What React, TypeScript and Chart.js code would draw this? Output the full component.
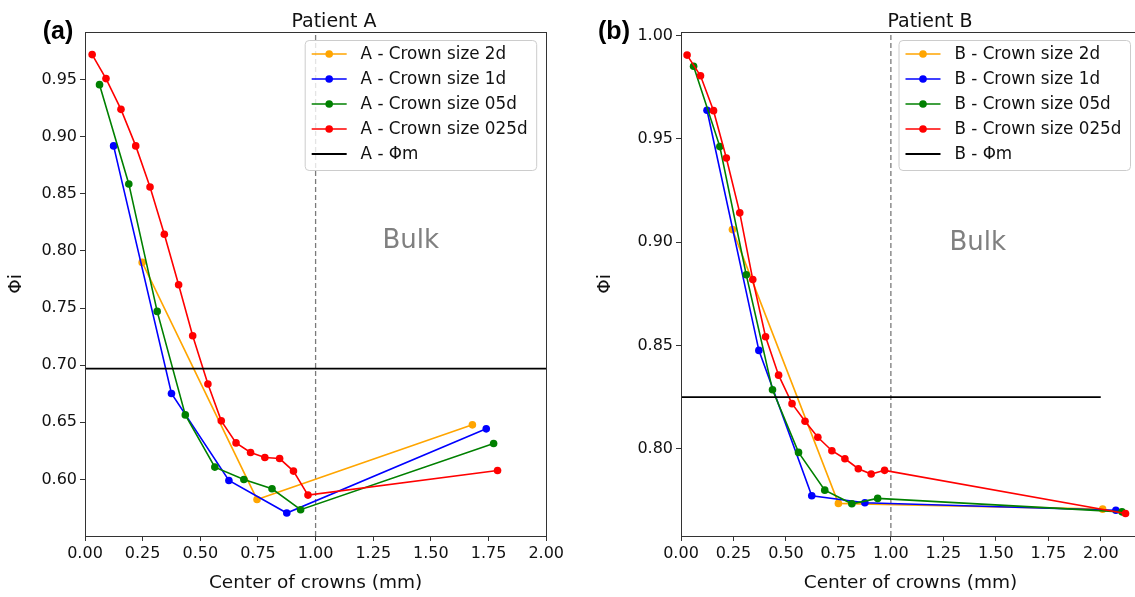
import React, { useEffect, useRef } from "react";
import { Chart, registerables } from "chart.js";

Chart.register(...registerables);

const FONT = "'DejaVu Sans', 'Liberation Sans', sans-serif";
const TAG_FONT = "'Liberation Sans', Arial, sans-serif";

// ---------- Panel A (Patient A) ----------
const aLabels = ["A - Crown size 2d", "A - Crown size 1d", "A - Crown size 05d", "A - Crown size 025d"];
const aPhiMLabel = "A - Φm";
const a2dX = [0.248, 0.746, 1.68];
const a2dY = [0.79, 0.5825, 0.6478];
const a1dX = [0.124, 0.375, 0.624, 0.875, 1.74];
const a1dY = [0.892, 0.6752, 0.5991, 0.5706, 0.6443];
const a05dX = [0.063, 0.19, 0.313, 0.435, 0.563, 0.689, 0.811, 0.935, 1.772];
const a05dY = [0.9456, 0.8587, 0.7471, 0.6565, 0.6108, 0.6, 0.5918, 0.5735, 0.6315];
const a025dX = [0.031, 0.091, 0.156, 0.22, 0.282, 0.344, 0.406, 0.467, 0.533, 0.591, 0.655, 0.718, 0.78, 0.844, 0.904, 0.967, 1.789];
const a025dY = [0.9719, 0.9509, 0.924, 0.892, 0.856, 0.8146, 0.7705, 0.7258, 0.6836, 0.6513, 0.632, 0.6236, 0.6192, 0.6183, 0.6073, 0.5863, 0.6079];
const aPhiM = 0.697;
const aPhiMRange = [0, 2.0];
const aXTicks = [0, 0.25, 0.5, 0.75, 1.0, 1.25, 1.5, 1.75, 2.0];
const aYTicks = [0.6, 0.65, 0.7, 0.75, 0.8, 0.85, 0.9, 0.95];
const aXLimits = [0, 2.0];
const aYLimits = [0.5505, 0.9917];
const aBulk = [1.29, 0.8023];

// ---------- Panel B (Patient B) ----------
const bLabels = ["B - Crown size 2d", "B - Crown size 1d", "B - Crown size 05d", "B - Crown size 025d"];
const bPhiMLabel = "B - Φm";
const b2dX = [0.245, 0.75, 2.009];
const b2dY = [0.9061, 0.7735, 0.7707];
const b1dX = [0.124, 0.371, 0.623, 0.876, 2.072];
const b1dY = [0.9639, 0.8476, 0.7772, 0.7738, 0.7702];
const b05dX = [0.06, 0.185, 0.311, 0.436, 0.56, 0.685, 0.814, 0.937, 2.101];
const b05dY = [0.9852, 0.9463, 0.8842, 0.8285, 0.7982, 0.7799, 0.7733, 0.7759, 0.7694];
const b025dX = [0.029, 0.093, 0.155, 0.216, 0.28, 0.342, 0.403, 0.465, 0.529, 0.591, 0.652, 0.719, 0.781, 0.845, 0.906, 0.97, 2.118];
const b025dY = [0.9906, 0.9806, 0.9637, 0.9408, 0.9142, 0.8819, 0.8542, 0.8356, 0.8218, 0.8133, 0.8055, 0.799, 0.7951, 0.7903, 0.7877, 0.7895, 0.7686];
const bPhiM = 0.825;
const bPhiMRange = [0, 2.0];
const bXTicks = [0, 0.25, 0.5, 0.75, 1.0, 1.25, 1.5, 1.75, 2.0];
const bYTicks = [0.8, 0.85, 0.9, 0.95, 1.0];
const bXLimits = [0, 2.187];
const bYLimits = [0.7577, 1.0018];
const bBulk = [1.279, 0.896];

const bulkBoundary = 1.0;

const seriesColors = ["#FFA500", "#0000FF", "#008000", "#FF0000"];
const phiMColor = "#000000";

const zip = (xs: number[], ys: number[]) => xs.map((x, i) => ({ x, y: ys[i] }));

const decorPlugin = {
  id: "decor",
  afterDatasetsDraw(chart: any, _args: any, opts: any) {
    const { ctx, chartArea: ca } = chart;
    const xs = chart.scales.x;
    const ys = chart.scales.y;
    ctx.save();
    // spines
    ctx.strokeStyle = "#333";
    ctx.lineWidth = 1;
    ctx.strokeRect(Math.round(ca.left) + 0.5, Math.round(ca.top) + 0.5, Math.round(ca.right - ca.left), Math.round(ca.bottom - ca.top));

    // Bulk text
    ctx.fillStyle = "#808080";
    ctx.font = `26px ${FONT}`;
    ctx.textAlign = "left";
    ctx.textBaseline = "alphabetic";
    ctx.fillText("Bulk", xs.getPixelForValue(opts.bulk[0]), ys.getPixelForValue(opts.bulk[1]));

    // legend
    const lw = 231.5;
    const lh = 130;
    const lx = ca.right - 9.5 - lw;
    const ly = ca.top + 8.5;
    const r = 4;
    ctx.beginPath();
    ctx.moveTo(lx + r, ly);
    ctx.lineTo(lx + lw - r, ly);
    ctx.quadraticCurveTo(lx + lw, ly, lx + lw, ly + r);
    ctx.lineTo(lx + lw, ly + lh - r);
    ctx.quadraticCurveTo(lx + lw, ly + lh, lx + lw - r, ly + lh);
    ctx.lineTo(lx + r, ly + lh);
    ctx.quadraticCurveTo(lx, ly + lh, lx, ly + lh - r);
    ctx.lineTo(lx, ly + r);
    ctx.quadraticCurveTo(lx, ly, lx + r, ly);
    ctx.closePath();
    ctx.fillStyle = "rgba(255,255,255,0.8)";
    ctx.fill();
    ctx.strokeStyle = "#cccccc";
    ctx.lineWidth = 1;
    ctx.stroke();

    ctx.font = `16.8px ${FONT}`;
    ctx.textBaseline = "middle";
    ctx.textAlign = "left";
    opts.legend.forEach((item: any, i: number) => {
      const cy = ly + 13.5 + 25 * i;
      ctx.strokeStyle = item.color;
      ctx.lineWidth = item.marker ? 1.6 : 1.8;
      ctx.beginPath();
      ctx.moveTo(lx + 6.5, cy);
      ctx.lineTo(lx + 41.5, cy);
      ctx.stroke();
      if (item.marker) {
        ctx.fillStyle = item.color;
        ctx.beginPath();
        ctx.arc(lx + 24, cy, 3.8, 0, Math.PI * 2);
        ctx.fill();
      }
      ctx.fillStyle = "#111";
      ctx.fillText(item.label, lx + 55.4, cy + 1);
    });

    // title
    ctx.fillStyle = "#111";
    ctx.font = `19px ${FONT}`;
    ctx.textAlign = "center";
    ctx.textBaseline = "alphabetic";
    ctx.fillText(opts.title, ca.left + 249, 27);

    // panel tag
    ctx.fillStyle = "#000";
    ctx.font = `bold 25px ${TAG_FONT}`;
    ctx.textBaseline = "middle";
    ctx.fillText(opts.tag, opts.tagPos[0], opts.tagPos[1]);
    ctx.restore();
  },
};

function buildConfig(p: any) {
  const series = [
    zip(p.s2d[0], p.s2d[1]),
    zip(p.s1d[0], p.s1d[1]),
    zip(p.s05d[0], p.s05d[1]),
    zip(p.s025d[0], p.s025d[1]),
  ];
  const drawList: any[] = [];
  drawList.push({
    label: "bulk boundary",
    data: [
      { x: bulkBoundary, y: p.yLim[0] },
      { x: bulkBoundary, y: p.yLim[1] },
    ],
    borderColor: "#7a7a7a",
    borderWidth: 1.3,
    borderDash: [5, 3],
    pointRadius: 0,
  });
  series.forEach((data, i) => {
    drawList.push({
      label: p.labels[i],
      data,
      borderColor: seriesColors[i],
      backgroundColor: seriesColors[i],
      pointBackgroundColor: seriesColors[i],
      pointBorderWidth: 0,
      pointRadius: 3.8,
      borderWidth: 1.6,
      tension: 0,
    });
  });
  drawList.push({
    label: p.phiMLabel,
    data: [
      { x: p.phiMRange[0], y: p.phiM },
      { x: p.phiMRange[1], y: p.phiM },
    ],
    borderColor: phiMColor,
    borderWidth: 1.8,
    pointRadius: 0,
  });
  const n = drawList.length;
  drawList.forEach((d, i) => (d.order = n - 1 - i));

  const legend = [
    ...p.labels.map((l: string, i: number) => ({ label: l, color: seriesColors[i], marker: true })),
    { label: p.phiMLabel, color: phiMColor, marker: false },
  ];

  return {
    type: "line",
    data: { datasets: drawList },
    options: {
      animation: false,
      responsive: false,
      maintainAspectRatio: false,
      devicePixelRatio: 1,
      layout: { padding: { left: 0, right: p.padRight, top: 32, bottom: 3 } },
      plugins: {
        legend: { display: false },
        tooltip: { enabled: false },
        decor: { legend, title: p.title, tag: p.tag, tagPos: p.tagPos, bulk: p.bulk },
      },
      scales: {
        x: {
          type: "linear",
          min: p.xLim[0],
          max: p.xLim[1],
          afterBuildTicks: (s: any) => {
            s.ticks = p.xTicks.map((v: number) => ({ value: v }));
          },
          afterFit: (s: any) => {
            s.height = 58;
          },
          ticks: {
            autoSkip: false,
            maxRotation: 0,
            padding: 3,
            color: "#111",
            font: { family: FONT, size: 16 },
            callback: (v: any) => Number(v).toFixed(2),
          },
          grid: { display: true, drawOnChartArea: false, drawTicks: true, tickLength: 5, color: "#333" },
          border: { display: false },
          title: {
            display: true,
            text: "Center of crowns (mm)",
            color: "#111",
            font: { family: FONT, size: 18.5 },
            padding: { top: 0, bottom: 0 },
          },
        },
        y: {
          type: "linear",
          min: p.yLim[0],
          max: p.yLim[1],
          afterBuildTicks: (s: any) => {
            s.ticks = p.yTicks.map((v: number) => ({ value: v }));
          },
          afterFit: (s: any) => {
            s.width = p.yAxisWidth;
          },
          ticks: {
            autoSkip: false,
            padding: 3,
            color: "#111",
            font: { family: FONT, size: 16 },
            callback: (v: any) => Number(v).toFixed(2),
          },
          grid: { display: true, drawOnChartArea: false, drawTicks: true, tickLength: 5, color: "#333" },
          border: { display: false },
          title: {
            display: true,
            text: "Φi",
            color: "#111",
            font: { family: FONT, size: 18.5 },
            padding: { top: p.yTitlePad, bottom: 0 },
          },
        },
      },
    },
    plugins: [decorPlugin],
  };
}

const panelA = {
  labels: aLabels,
  phiMLabel: aPhiMLabel,
  s2d: [a2dX, a2dY],
  s1d: [a1dX, a1dY],
  s05d: [a05dX, a05dY],
  s025d: [a025dX, a025dY],
  phiM: aPhiM,
  phiMRange: aPhiMRange,
  xTicks: aXTicks,
  yTicks: aYTicks,
  xLim: aXLimits,
  yLim: aYLimits,
  bulk: aBulk,
  title: "Patient A",
  tag: "(a)",
  tagPos: [58, 32],
  yAxisWidth: 85,
  yTitlePad: 5.5,
  padRight: 20,
};

const panelB = {
  labels: bLabels,
  phiMLabel: bPhiMLabel,
  s2d: [b2dX, b2dY],
  s1d: [b1dX, b1dY],
  s05d: [b05dX, b05dY],
  s025d: [b025dX, b025dY],
  phiM: bPhiM,
  phiMRange: bPhiMRange,
  xTicks: bXTicks,
  yTicks: bYTicks,
  xLim: bXLimits,
  yLim: bYLimits,
  bulk: bBulk,
  title: "Patient B",
  tag: "(b)",
  tagPos: [47, 32],
  yAxisWidth: 114,
  yTitlePad: 27,
  padRight: 7,
};

function Panel({ cfg, left, width }: { cfg: any; left: number; width: number }) {
  const ref = useRef<HTMLCanvasElement>(null);
  useEffect(() => {
    const chart = new Chart(ref.current as HTMLCanvasElement, buildConfig(cfg) as any);
    return () => chart.destroy();
  }, []);
  return (
    <canvas
      ref={ref}
      width={width}
      height={597}
      style={{ position: "absolute", left, top: 0, width, height: 597 }}
    />
  );
}

export default function App() {
  return (
    <div
      style={{
        position: "absolute",
        left: 0,
        top: 0,
        width: 1135,
        height: 597,
        overflow: "hidden",
        background: "#fff",
      }}
    >
      <Panel cfg={panelA} left={0} width={567} />
      <Panel cfg={panelB} left={567} width={580} />
    </div>
  );
}
